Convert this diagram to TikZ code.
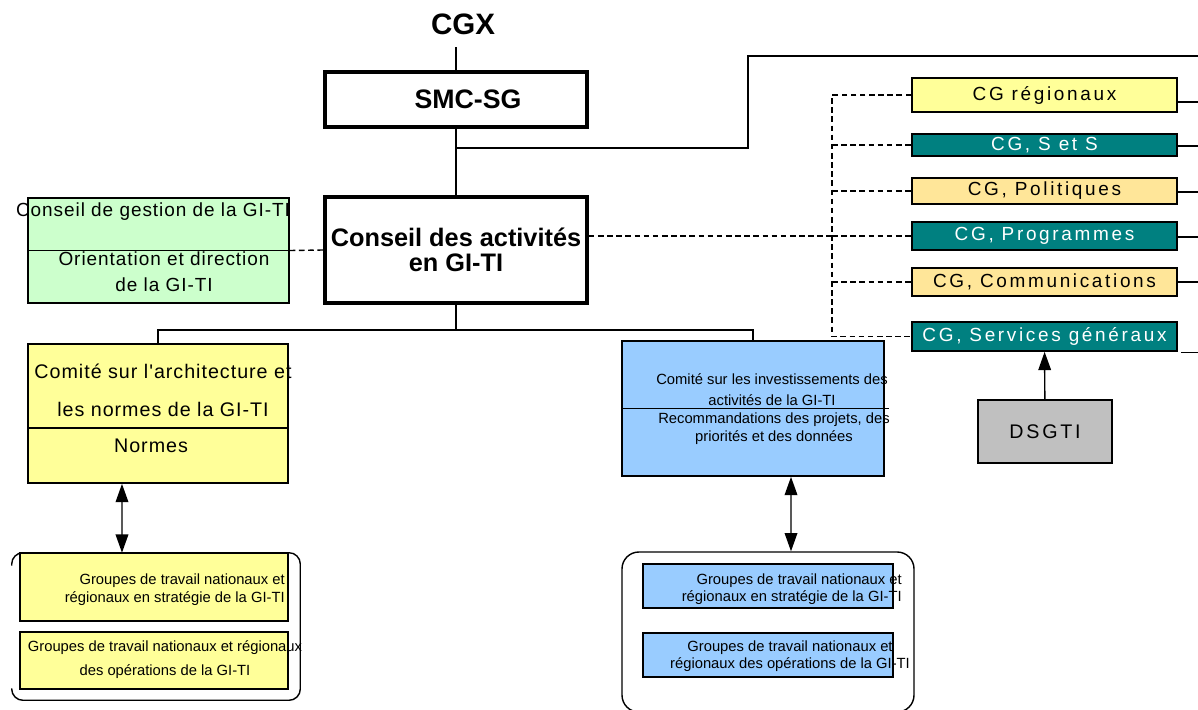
\documentclass[tikz,border=0pt]{standalone}
\usepackage{fontspec}
\setmainfont{Liberation Sans}
\newfontfamily\espacefort[LetterSpace=14]{Liberation Sans}
\newfontfamily\espace[LetterSpace=5]{Liberation Sans}
\usetikzlibrary{arrows.meta}
\definecolor{vertpale}{HTML}{CCFFCC}
\definecolor{jaune}{HTML}{FFFF99}
\definecolor{jauneor}{HTML}{FFE699}
\definecolor{sarcelle}{HTML}{008080}
\definecolor{bleupale}{HTML}{99CCFF}
\definecolor{gris}{HTML}{C0C0C0}
\begin{document}
\begin{tikzpicture}
	[x=0.025cm, y=-0.025cm,
	every node/.style={inner sep=0pt},
	sz/.style 2 args={minimum width={#1*0.025cm}, minimum height={#2*0.025cm}},
	lien/.style={line width=1pt},
	boite/.style={draw, line width=1.2pt},
	gras/.style={draw, line width=2.6pt},
	cg/.style={boite, sz={265}{#1}, font=\espacefort\fontsize{13.5}{15}\selectfont},
	sar/.style={fill=sarcelle, text=white},
	pt/.style={lien, dash pattern=on 4pt off 2.5pt},
	pointe/.tip={Triangle[length=13pt,width=9pt]},
	fl/.style={lien, -pointe},
	dfl/.style={lien, pointe-pointe},
	petit/.style={font=\fontsize{10.5}{#1}\selectfont}]
	\useasboundingbox (0,0) rectangle (1198,710);
	\node [font=\bfseries\fontsize{21}{24}\selectfont, inner ysep=9pt] (cgx) at (463,24) {CGX};
	\node [gras, sz={262}{55}, font=\bfseries\fontsize{19}{22}\selectfont, text width=6.55cm, align=center] (smc) at (456,99.5) {\hspace*{0.6cm}SMC-SG};
	\node [gras, sz={262}{106}, align=center, font=\bfseries\fontsize{18}{18}\selectfont] (ca) at (456,250) {Conseil des activités\\en GI-TI};
	\node [boite, fill=vertpale, sz={261}{105}] (gest) at (158.5,250.5) {};
	\node [font=\espace\fontsize{13.5}{16}\selectfont] (gest1) at (153,212) {Conseil de gestion de la GI-TI};
	\node [align=center, font=\espace\fontsize{13.5}{18.5}\selectfont] (gest2) at (164,272) {Orientation et direction\\de la GI-TI};
	\node [cg=34, fill=jaune] (cg1) at (1044.5,95) {CG régionaux};
	\node [cg=22, sar] (cg2) at (1044.5,145) {CG, S et S};
	\node [cg=26, fill=jauneor] (cg3) at (1044.5,191) {CG, Politiques};
	\node [cg=28, sar] (cg4) at (1044.5,236) {CG, Programmes};
	\node [cg=28, fill=jauneor] (cg5) at (1044.5,282) {CG, Communications};
	\node [cg=29, sar] (cg6) at (1044.5,336.5) {CG, Services généraux};
	\node [boite, fill=gris, sz={134}{63}, font=\espacefort\fontsize{14}{16}\selectfont] (dsg) at (1045,431.5) {DSGTI};
	\node [boite, fill=jaune, sz={260}{139}] (arch) at (158,413.5) {};
	\node [align=center, font=\espace\fontsize{14}{27}\selectfont] (arch1) at (163,390) {Comité sur l'architecture et\\les normes de la GI-TI};
	\node [font=\espace\fontsize{14}{16}\selectfont] (arch2) at (151,446) {Normes};
	\node [boite, fill=bleupale, sz={262}{135}] (inv) at (753,408.5) {};
	\node [align=center, petit=15] (inv1) at (772,389.5) {Comité sur les investissements des\\activités de la GI-TI};
	\node [align=center, petit=13] (inv2) at (774,429) {Recommandations des projets, des\\priorités et des données};
	\node [sz={288}{147}] (grpL) at (156,626.5) {};
	\node [boite, fill=jaune, sz={268}{68}] (gL1) at (154,587) {};
	\node [anchor=east, align=right, petit=13] (gL1t) at (285,590) {Groupes de travail nationaux et\\régionaux en stratégie de la GI-TI};
	\node [boite, fill=jaune, sz={268}{57}] (gL2) at (154,660.5) {};
	\node [align=center, petit=17] (gL2t) at (165,660) {Groupes de travail nationaux et régionaux\\des opérations de la GI-TI};
	\node [draw, lien, rounded corners=12pt, sz={292}{160}] (grpR) at (768,632) {};
	\node [boite, fill=bleupale, sz={250}{44}] (gR1) at (768,586) {};
	\node [anchor=east, align=right, petit=12] (gR1t) at (902,589.5) {Groupes de travail nationaux et\\régionaux en stratégie de la GI-TI};
	\node [boite, fill=bleupale, sz={250}{44}] (gR2) at (768,655) {};
	\node [align=center, petit=12] (gR2t) at (790,656.5) {Groupes de travail nationaux et\\régionaux des opérations de la GI-TI};
	\coordinate (coude) at (748,56);
	\coordinate (sortie) at (1202,56);
	\coordinate (bus) at (832,0);
	\draw [lien] (smc.north) -- (smc.north |- cgx.south);
	\draw [lien] (smc) -- (ca);
	\draw [lien] (smc.south) ++(0,19) -| (coude) -- (sortie);
	\draw [lien] (gest.west) -- (gest.east);
	\draw [pt] (gest.east) -- (ca.west);
	\draw [pt] (ca.east) ++(0,-14) -- (bus |- cg4.west);
	\draw [pt] (cg1.west) -| (bus |- cg6.west) -- (cg6.west);
	\draw [pt] (bus |- cg2.west) -- (cg2.west);
	\draw [pt] (bus |- cg3.west) -- (cg3.west);
	\draw [pt] (bus |- cg4.west) -- (cg4.west);
	\draw [pt] (bus |- cg5.west) -- (cg5.west);
	\draw [lien] (cg1.east) ++(0,7) -- ++(25,0);
	\draw [lien] (cg2.east) ++(0,1) -- ++(25,0);
	\draw [lien] (cg3.east) ++(0,1) -- ++(25,0);
	\draw [lien] (cg4.east) ++(0,1) -- ++(25,0);
	\draw [lien] (cg5.east) -- ++(25,0);
	\draw [lien] (cg6.east) ++(3,16) -- ++(25,0);
	\draw [fl] (dsg) -- (cg6);
	\draw [lien] (ca.south) -- ++(0,25) -| (arch.north);
	\draw [lien] (ca.south) ++(0,25) -| (inv.north);
	\draw [lien] (arch.west) ++(0,14.5) -- ++(262,0);
	\draw [lien] (inv.west) -- ([xshift=0.1cm]inv.east);
	\draw [lien, rounded corners=8pt] (grpL.north west) ++(0,13) |- (grpL.north east) |- (grpL.south west) -- ++(0,-12);
	\draw [dfl] ([xshift=-0.9cm]arch.south) -- ([xshift=-0.85cm]grpL.north);
	\draw [dfl] ([xshift=0.95cm]inv.south) -- ([xshift=0.575cm]grpR.north);
\end{tikzpicture}
\end{document}
